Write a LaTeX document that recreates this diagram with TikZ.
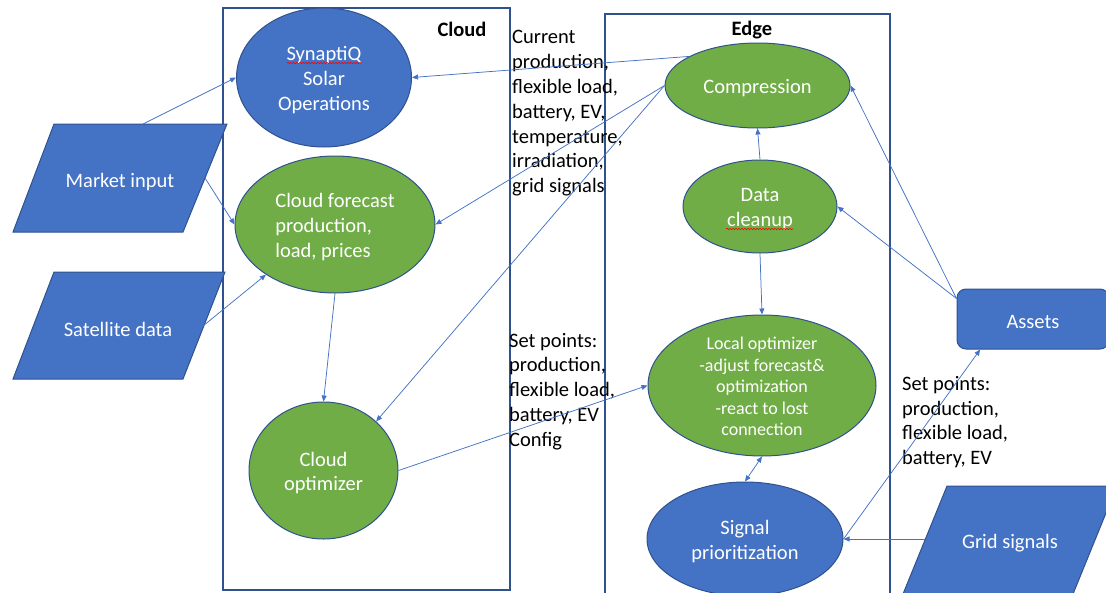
\documentclass[tikz,border=0pt]{standalone}
\usepackage{fontspec}
\setmainfont{Carlito}
\usetikzlibrary{shapes.geometric,arrows.meta,decorations.pathmorphing}
\definecolor{shapeblue}{HTML}{4472C4}
\definecolor{shapegreen}{HTML}{70AD47}
\definecolor{edgeblue}{HTML}{2F528F}
\definecolor{linkblue}{HTML}{4472C4}
\begin{document}
\begin{tikzpicture}[x=1pt,y=-1pt,
  every node/.style={font=\fontsize{20.5}{24.8}\selectfont},
  ell/.style={ellipse, draw=edgeblue, line width=1pt, inner sep=0pt},
  blueell/.style={ell, fill=shapeblue},
  greenell/.style={ell, fill=shapegreen},
  intext/.style={text=white, inner sep=0pt, align=center, yshift=-2.5pt},
  para/.style={draw=edgeblue, line width=1pt, fill=shapeblue},
  region/.style={draw=edgeblue, line width=1.3pt},
  regionlbl/.style={font=\bfseries\fontsize{20.5}{24.8}\selectfont, inner sep=0pt},
  link/.style={draw=linkblue, line width=0.75pt, -{Triangle[length=6pt,width=5pt]}},
  lbl/.style={text=black, align=left, inner sep=0pt, anchor=west, yshift=-2pt},
  spell/.style={draw=red, line width=0.6pt, decorate, decoration={snake, amplitude=0.7pt, segment length=3pt}}
]
\useasboundingbox (0,0) rectangle (1106,592);
\clip (0,0) rectangle (1106,592);

% regions
\draw[region] (223,8) rectangle (510,590);
\draw[region] (605,14) rectangle (890,600);
\node[regionlbl] (cloudlbl) at (462,29) {Cloud};
\node[regionlbl] (edgelbl) at (752,30) {Edge};

% ellipses
\node[blueell, minimum width=175, minimum height=139] (S) at (324,77.5) {};
\node[intext] (St) at (S.center) {SynaptiQ\\Solar\\Operations};
\node[greenell, minimum width=200, minimum height=137] (F) at (335,224.5) {};
\node[intext, align=left] (Ft) at (F.center) {Cloud forecast\\production,\\load, prices};
\node[greenell, minimum width=149, minimum height=137] (O) at (323.5,470.5) {};
\node[intext] (Ot) at (O.center) {Cloud\\optimizer};
\node[greenell, minimum width=185, minimum height=85] (C) at (757.5,85.5) {};
\node[intext] (Ct) at (C.center) {Compression};
\node[greenell, minimum width=154, minimum height=93] (D) at (760,206.5) {};
\node[intext] (Dt) at (D.center) {Data\\cleanup};
\node[greenell, minimum width=228, minimum height=141] (L) at (762,385.5) {};
\node[intext, yshift=1.5pt, font=\fontsize{18}{21.6}\selectfont] (Lt) at (L.center) {Local optimizer\\-adjust forecast\&\\optimization\\-react to lost\\connection};
\node[blueell, minimum width=196, minimum height=114] (P) at (745,539) {};
\node[intext] (Pt) at (P.center) {Signal\\prioritization};

% assets
\node[draw=edgeblue, fill=shapeblue, line width=1pt, rounded corners=9pt, minimum width=152, minimum height=60, text=white, inner sep=0pt] (A) at (1033,319) {};
\node[intext] (At) at (A.center) {Assets};

% parallelograms
\draw[para] (54,124) -- (227,124) -- (183,232) -- (13,232) -- cycle;
\node[intext] (M) at (120,180) {Market input};
\coordinate (Mtop) at (143,124);
\coordinate (Mright) at (205,178);
\draw[para] (54,272) -- (225,272) -- (183,379) -- (13,379) -- cycle;
\node[intext] (T) at (118,327) {Satellite data};
\coordinate (Tright) at (203,326);
\draw[para] (947,486) -- (1117,486) -- (1073,594) -- (903,594) -- cycle;
\node[intext] (G) at (1010,541) {Grid signals};
\coordinate (Gleft) at (925,539);

% labels
\node[lbl] (lab1) at (512,111.5) {Current\\production,\\flexible load,\\battery, EV,\\temperature,\\irradiation,\\grid signals};
\node[lbl] (lab2) at (509,389.5) {Set points:\\production,\\flexible load,\\battery, EV\\Config};
\node[lbl] (lab3) at (902,420) {Set points:\\production,\\flexible load,\\battery, EV};

% connectors
\draw[link] (C.157) -- (S.east);
\draw[link] (C.west) -- (F.east);
\draw[link] (C.west) -- (O.43);
\draw[link] (Mtop) -- (S.west);
\draw[link] (Mright) -- (F.west);
\draw[link] (Tright) -- (F.216);
\draw[link] (F.south) -- (O.north);
\draw[link] (O.east) -- (L.west);
\draw[link] (D.north) -- (C.south);
\draw[link] (D.south) -- (L.north);
\draw[link] (A.165) -- (C.east);
\draw[link] (A.165) -- (D.east);
\draw[link, {Triangle[length=6pt,width=5pt]}-{Triangle[length=6pt,width=5pt]}] (L.south) -- (P.north);
\draw[link] (Gleft) -- (P.east);
\draw[link] (P.east) -- (A.210);

% spell-check marks
\draw[spell] (287,63) -- (362,63);
\draw[spell] (726,229) -- (793,229);
\end{tikzpicture}
\end{document}
